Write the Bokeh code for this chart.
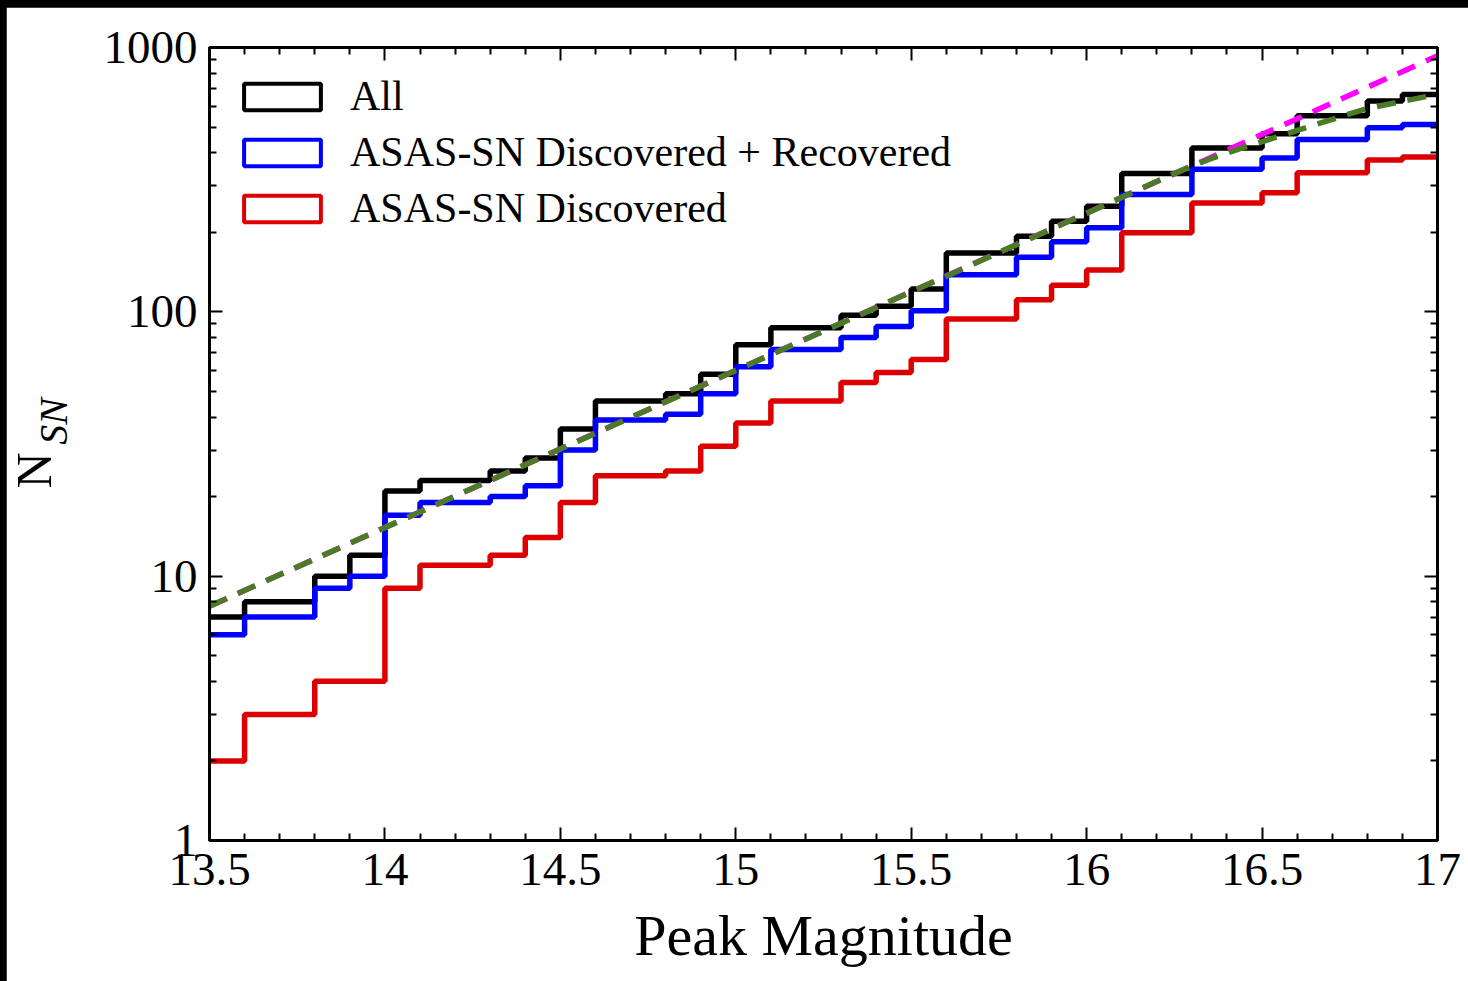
import numpy as np
from bokeh.plotting import figure
from bokeh.models import (Range1d, LinearAxis, LogAxis, FixedTicker, Legend, LegendItem,
                          Label, NumeralTickFormatter, ColumnDataSource, GlobalInlineStyleSheet,
                          CustomLabelingPolicy)
from bokeh.embed import file_html
from bokeh.resources import INLINE

# ---------------- data ----------------
bin_left = [13.5, 13.6, 13.7, 13.8, 13.9, 14.0, 14.1, 14.2, 14.3, 14.4,
            14.5, 14.6, 14.7, 14.8, 14.9, 15.0, 15.1, 15.2, 15.3, 15.4,
            15.5, 15.6, 15.7, 15.8, 15.9, 16.0, 16.1, 16.2, 16.3, 16.4,
            16.5, 16.6, 16.7, 16.8, 16.9]
bin_right_end = 17.0

n_all = [7, 8, 8, 10, 12, 21, 23, 23, 25, 28,
         36, 46, 46, 49, 58, 75, 87, 87, 97, 105,
         122, 167, 167, 193, 220, 251, 334, 334, 417, 417,
         472, 552, 552, 627, 664]
n_disc_rec = [6, 7, 7, 9, 10, 17, 19, 19, 20, 22,
              30, 39, 39, 41, 49, 62, 72, 72, 80, 88,
              101, 138, 138, 161, 184, 208, 278, 278, 346, 346,
              382, 449, 449, 497, 511]
n_disc = [2, 3, 3, 4, 4, 9, 11, 11, 12, 14,
          19, 24, 24, 25, 31, 38, 46, 46, 54, 59,
          66, 94, 94, 111, 126, 144, 199, 199, 258, 258,
          282, 336, 336, 375, 385]

# Euclidean (magenta) line
euclid_mag = [13.5, 17.0]
euclid_n = [7.7, 930.0]
# model (green) curve
model_mag = [13.5, 16.0, 16.25, 16.35, 16.45, 16.55, 16.65, 16.8, 17.0]
model_n = [7.7, 236, 334, 378, 420, 462, 510, 588, 665]

labels = ["All", "ASAS-SN Discovered + Recovered", "ASAS-SN Discovered"]
colors = ["#000000", "#0000ff", "#dd0000"]

x_major = [13.5, 14.0, 14.5, 15.0, 15.5, 16.0, 16.5, 17.0]
x_minor = [v for v in [round(13.5 + 0.1 * i, 1) for i in range(36)] if v not in x_major]
y_major = [1, 10, 100, 1000]
y_minor = [m * d for d in (1, 10, 100) for m in range(2, 10)]

FONT = "Liberation Serif"

# ---------------- figure ----------------
p = figure(width=1591, height=981,
           x_range=Range1d(13.5, 17.0), y_range=Range1d(1, 1000),
           y_axis_type="log", output_backend="svg", toolbar_location=None,
           min_border_left=203, min_border_right=160, min_border_top=40, min_border_bottom=148)
p.stylesheets = [GlobalInlineStyleSheet(
    css="html { overflow: hidden; } html, body { background-color: #000000; }")]
p.styles = {"margin-left": "6px", "margin-top": "7px"}
p.background_fill_color = "white"
p.border_fill_color = "white"
p.xgrid.visible = False
p.ygrid.visible = False
p.outline_line_color = "black"
p.outline_line_width = 3

xt = FixedTicker(ticks=x_major, minor_ticks=x_minor)
yt = FixedTicker(ticks=y_major, minor_ticks=y_minor)

def style_axis(ax, show_labels=True):
    ax.axis_line_width = 3
    ax.axis_line_color = "black"
    ax.major_tick_in = 13
    ax.major_tick_out = 0
    ax.minor_tick_in = 7
    ax.minor_tick_out = 0
    ax.major_tick_line_width = 2
    ax.minor_tick_line_width = 2
    ax.major_tick_line_color = "black"
    ax.minor_tick_line_color = "black"
    ax.major_label_text_font = FONT
    ax.major_label_text_color = "black"
    ax.major_label_text_font_size = "47px"
    if not show_labels:
        ax.major_label_policy = CustomLabelingPolicy(code="return []")
        ax.major_label_text_font_size = "10px"
        ax.major_label_standoff = 0

xa = p.xaxis[0]
xa.ticker = xt
xa.formatter = NumeralTickFormatter(format="0.[0]")
style_axis(xa)
xa.major_label_standoff = 13
xa.axis_label = "Peak Magnitude"
xa.axis_label_text_font = FONT
xa.axis_label_text_font_size = "58px"
xa.axis_label_text_font_style = "normal"
xa.axis_label_text_color = "black"
xa.axis_label_standoff = 15

ya = p.yaxis[0]
ya.ticker = yt
ya.formatter = NumeralTickFormatter(format="0")
style_axis(ya)
ya.major_label_standoff = 12

top = LinearAxis(ticker=xt)
style_axis(top, show_labels=False)
p.add_layout(top, "above")
right = LogAxis(ticker=yt)
style_axis(right, show_labels=False)
p.add_layout(right, "right")

# ---------------- histograms ----------------
edges = bin_left + [bin_right_end]
for vals, col in zip([n_all, n_disc_rec, n_disc], colors):
    p.step(x=edges, y=vals + [vals[-1]], mode="after", line_color=col, line_width=5.5)

p.line(euclid_mag, euclid_n, line_color="#ff00ff", line_width=5.5, line_dash="19 12")
p.line(model_mag, model_n, line_color="#4a7d23", line_width=5.5, line_dash="19 12")

# legend proxies (box patches)
items = []
for lab, col in zip(labels, colors):
    src = ColumnDataSource(dict(left=[10.0], right=[10.1], top=[0.01], bottom=[0.001]))
    r = p.quad(left="left", right="right", top="top", bottom="bottom", source=src,
               fill_alpha=0, line_color=col, line_width=4)
    items.append(LegendItem(label=lab, renderers=[r]))

legend = Legend(items=items, location="top_left", glyph_width=96, glyph_height=33,
                label_text_font=FONT, label_text_font_size="42px", label_text_color="black",
                label_standoff=20, spacing=8, padding=25, margin=0,
                border_line_alpha=0, background_fill_alpha=0)
p.add_layout(legend)

# y axis label N_SN (held in an off-screen side panel so it is not clipped to the frame)
p.add_layout(Label(x=13.0554, y=38.5, text="SN", angle=np.pi / 2, text_font=FONT,
                   text_font_size="40px", text_font_style="italic", text_align="center",
                   text_baseline="middle", text_color="black"), "right")
p.add_layout(Label(x=13.001, y=25.1, text="N", angle=np.pi / 2, text_font=FONT,
                   text_font_size="50px", text_align="center", text_baseline="middle",
                   text_color="black"), "right")

open("out.html", "w").write(file_html(p, INLINE))
